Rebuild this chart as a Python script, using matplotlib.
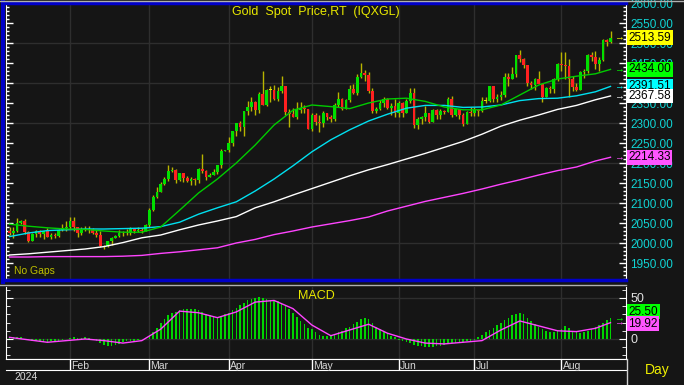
import numpy as np
import pandas as pd
import matplotlib
matplotlib.use('Agg')
import matplotlib.pyplot as plt
from matplotlib.lines import Line2D
from matplotlib.ticker import MultipleLocator

plt.rcParams['font.family'] = ['Liberation Sans', 'DejaVu Sans']

# trading days shown on the chart
dates = pd.bdate_range('2024-01-10', '2024-08-20')

opens = [2030, 2025, 2029, 2049, 2055, 2028, 2006, 2023, 2029, 2022, 2029, 2014, 2021, 2018, 2033, 2037,
         2039, 2054, 2039, 2024, 2035, 2035, 2034, 2024, 2020, 1992, 1992, 2004, 2013, 2018, 2024, 2025, 2024, 2035, 2031, 2033, 2030,
         2044, 2083, 2114, 2128, 2148, 2160, 2179, 2182, 2158, 2174, 2162, 2156, 2160, 2157, 2186, 2181, 2165, 2171, 2178, 2194, 2229,
         2233, 2251, 2280, 2300, 2290, 2329, 2339, 2352, 2333, 2372, 2344, 2383, 2383, 2361, 2379, 2392, 2327, 2322, 2316, 2332, 2337, 2335,
         2286, 2320, 2303, 2301, 2324, 2314, 2309, 2346, 2360, 2336, 2358, 2385, 2376, 2414, 2425, 2421, 2379, 2329, 2334, 2350, 2361, 2337, 2343,
         2326, 2349, 2326, 2355, 2376, 2294, 2311, 2316, 2324, 2303, 2333, 2319, 2329, 2328, 2360, 2321, 2334, 2320, 2298, 2327,
         2326, 2332, 2330, 2356, 2356, 2392, 2359, 2364, 2371, 2415, 2411, 2422, 2469, 2459, 2445, 2400, 2396, 2409, 2398, 2365, 2387, 2384, 2410,
         2448, 2446, 2442, 2410, 2390, 2383, 2427, 2431, 2471, 2465, 2447, 2457, 2507, 2503]
highs = [2040, 2040, 2062, 2058, 2059, 2031, 2024, 2033, 2033, 2031, 2037, 2024, 2026, 2036, 2048, 2055,
         2065, 2065, 2040, 2040, 2043, 2043, 2038, 2032, 2031, 1995, 2006, 2016, 2021, 2032, 2030, 2034, 2041, 2036, 2039, 2038, 2047,
         2088, 2119, 2141, 2152, 2165, 2195, 2189, 2184, 2175, 2176, 2167, 2164, 2163, 2187, 2222, 2183, 2176, 2184, 2196, 2236, 2233,
         2265, 2280, 2300, 2305, 2331, 2354, 2365, 2355, 2378, 2431, 2384, 2392, 2395, 2389, 2418, 2392, 2335, 2338, 2352, 2353, 2346, 2336,
         2326, 2326, 2319, 2331, 2326, 2319, 2351, 2378, 2362, 2359, 2395, 2397, 2422, 2450, 2432, 2427, 2387, 2340, 2357, 2364, 2362, 2351, 2360,
         2355, 2353, 2360, 2388, 2387, 2314, 2318, 2342, 2325, 2334, 2336, 2335, 2333, 2365, 2368, 2335, 2335, 2324, 2330, 2339,
         2340, 2335, 2365, 2364, 2392, 2393, 2372, 2381, 2424, 2424, 2440, 2469, 2483, 2462, 2446, 2404, 2412, 2431, 2401, 2390, 2392, 2413, 2451,
         2477, 2477, 2460, 2418, 2399, 2431, 2435, 2473, 2477, 2479, 2464, 2509, 2510, 2531]
lows = [2021, 2013, 2028, 2047, 2023, 2002, 2005, 2016, 2016, 2011, 2014, 2010, 2013, 2015, 2031, 2030,
        2035, 2031, 2014, 2020, 2030, 2024, 2022, 2015, 1990, 1984, 1990, 1996, 2012, 2015, 2018, 2019, 2020, 2025, 2028, 2024, 2030,
        2039, 2081, 2113, 2127, 2145, 2154, 2177, 2150, 2155, 2153, 2153, 2146, 2146, 2151, 2175, 2157, 2164, 2169, 2172, 2187, 2229,
        2228, 2243, 2268, 2281, 2267, 2321, 2329, 2319, 2326, 2345, 2343, 2353, 2357, 2356, 2375, 2320, 2291, 2314, 2310, 2326, 2325, 2285,
        2281, 2296, 2277, 2291, 2307, 2303, 2306, 2340, 2333, 2335, 2353, 2373, 2370, 2412, 2404, 2374, 2326, 2325, 2333, 2340, 2334, 2321, 2314,
        2314, 2315, 2325, 2351, 2287, 2286, 2297, 2305, 2300, 2302, 2310, 2310, 2323, 2327, 2316, 2317, 2309, 2293, 2298, 2318,
        2317, 2318, 2327, 2351, 2353, 2353, 2352, 2358, 2365, 2393, 2410, 2414, 2453, 2437, 2393, 2385, 2383, 2399, 2353, 2364, 2375, 2375, 2406,
        2430, 2410, 2364, 2381, 2380, 2382, 2412, 2425, 2454, 2436, 2431, 2454, 2492, 2500]
closes = [2025, 2029, 2049, 2055, 2028, 2006, 2023, 2029, 2022, 2029, 2014, 2021, 2018, 2033, 2037, 2039,
          2054, 2039, 2024, 2035, 2035, 2034, 2024, 2020, 1992, 1992, 2004, 2013, 2018, 2024, 2025, 2024, 2035, 2031, 2033, 2030, 2044,
          2083, 2114, 2128, 2148, 2160, 2179, 2182, 2158, 2174, 2162, 2156, 2160, 2157, 2186, 2181, 2165, 2171, 2178, 2194, 2229, 2233,
          2251, 2280, 2300, 2290, 2329, 2339, 2352, 2333, 2372, 2344, 2383, 2383, 2361, 2379, 2392, 2327, 2322, 2316, 2332, 2337, 2335, 2286,
          2320, 2303, 2301, 2324, 2314, 2309, 2346, 2360, 2336, 2358, 2385, 2376, 2414, 2425, 2421, 2379, 2329, 2334, 2350, 2361, 2337, 2343, 2326,
          2349, 2326, 2355, 2376, 2294, 2311, 2316, 2324, 2303, 2333, 2319, 2329, 2328, 2360, 2321, 2334, 2320, 2298, 2327, 2326,
          2332, 2330, 2356, 2356, 2392, 2359, 2364, 2371, 2415, 2411, 2422, 2469, 2459, 2445, 2400, 2396, 2409, 2398, 2365, 2387, 2384, 2410, 2448,
          2446, 2442, 2410, 2390, 2383, 2427, 2431, 2471, 2465, 2447, 2457, 2507, 2503, 2513.59]

# moving averages
ma_idx = [0, 5, 10, 15, 20, 25, 30, 35, 40, 45, 50, 55, 60, 65, 70, 75, 80,
          85, 90, 95, 100, 105, 110, 115, 120, 125, 130, 135, 140, 145, 150, 155, 159]
ma_green = [2047, 2042, 2038, 2035, 2034, 2030, 2027, 2027, 2040, 2082, 2125, 2160, 2200, 2245, 2295, 2332, 2345,
            2341, 2336, 2350, 2360, 2362, 2354, 2340, 2333, 2333, 2345, 2370, 2395, 2410, 2417, 2423, 2434.00]
ma_cyan = [2016, 2025, 2031, 2033, 2035, 2035, 2036, 2037, 2041, 2052, 2072, 2088, 2103, 2130, 2160, 2193, 2228,
           2258, 2283, 2305, 2322, 2337, 2344, 2344, 2339, 2340, 2345, 2356, 2361, 2362, 2368, 2378, 2391.51]
ma_white = [1970, 1973, 1977, 1981, 1985, 1991, 2001, 2013, 2020, 2033, 2045, 2055, 2066, 2088, 2103, 2120, 2136,
            2152, 2168, 2183, 2196, 2210, 2224, 2239, 2254, 2272, 2292, 2307, 2320, 2334, 2344, 2358, 2367.58]
ma_magenta = [1965, 1965, 1966, 1966, 1966, 1966, 1967, 1969, 1974, 1978, 1983, 1988, 2000, 2009, 2021, 2030, 2040,
              2048, 2056, 2065, 2080, 2092, 2104, 2114, 2124, 2135, 2147, 2158, 2170, 2181, 2190, 2205, 2214.33]

macd = [2, 3, 3, 2, 0, -1, -2, -3, -3, -4, -4, -3, -3, -2, -1, 0,
        1, 2, 1, 1, 2, 1, 0, -2, -5, -7, -8, -8, -7, -6, -4, -3, -2, -2, -1, 0, 1,
        4, 9, 14, 19, 24, 29, 32, 33, 35, 36, 37, 37, 36, 35, 33, 31, 29, 27, 27, 28, 30,
        32, 35, 38, 41, 44, 47, 49, 50, 51, 50, 49, 48, 48, 46, 43, 40, 36, 32, 27, 22, 18, 14,
        12, 8, 5, 4, 4, 5, 6, 8, 10, 13, 15, 18, 21, 24, 26, 24, 19, 15, 12, 9, 7, 4, 2,
        -1, -3, -4, -5, -7, -8, -9, -10, -10, -10, -9, -8, -7, -6, -5, -5, -4, -4, -3, -3,
        -1, 2, 5, 8, 11, 14, 17, 20, 23, 26, 29, 31, 32, 30, 26, 22, 18, 15, 12, 10, 9, 9, 10,
        12, 16, 13, 10, 8, 7, 8, 10, 12, 15, 17, 20, 23, 25.50]
signal = [2, -1, -4, -2, 0, -2, -5, -2, 12, 34, 32, 26, 33, 45, 47, 37, 17,
          4, 11, 18, 7, 0, -5, -6, -4, -2, 11, 22, 16, 10, 9, 13, 19.92]

BG = '#151515'
GRID = '#2e2e2e'
BLUE = '#0000c8'
W, H = 684, 385


def fx(px):
    return px / W


def fy(py):
    return 1 - py / H


fig = plt.figure(figsize=(6.84, 3.85), dpi=100, facecolor=BG)
ax = fig.add_axes([fx(6), fy(280), fx(620), 277 / H], facecolor=BG)
axm = fig.add_axes([fx(6), fy(359), fx(620), 72 / H], facecolor=BG)
axd = fig.add_axes([fx(6), fy(370), fx(620), 11 / H], facecolor=BG)

n = len(closes)
x = np.arange(n)
month_starts = [i for i in range(1, n) if dates[i].month != dates[i - 1].month]
month_names = [dates[i].strftime('%b') for i in month_starts]
xlim = (-0.93, 163.1)

# ---- price panel ----
for p in range(2000, 2501, 100):
    ax.axhline(p, color=GRID, lw=1, zorder=0)
for i in month_starts:
    ax.axvline(i, color=GRID, lw=1, zorder=0)

o = np.array(opens, float)
c = np.array(closes, float)
up = c >= o
wick_col = '#b8b400'
ax.vlines(x, lows, highs, color=wick_col, lw=1, zorder=2)
body_bot = np.minimum(o, c)
body_h = np.maximum(np.abs(c - o), 1.2)
cols = np.where(np.abs(c - o) < 0.5, '#e8e800', np.where(up, '#00e000', '#ff2020'))
ax.bar(x, body_h, bottom=body_bot, width=0.72, color=cols, linewidth=0, zorder=3)

ax.plot(ma_idx, ma_magenta, color='#ff44ff', lw=1, zorder=4)
ax.plot(ma_idx, ma_white, color='#ffffff', lw=1, zorder=4)
ax.plot(ma_idx, ma_cyan, color='#00e0f0', lw=1, zorder=4)
ax.plot(ma_idx, ma_green, color='#00cc00', lw=1, zorder=4)

ax.set_xlim(*xlim)
ax.set_ylim(1907.5, 2600)
ax.set_xticks([])
ax.yaxis.set_major_locator(MultipleLocator(50))
ax.yaxis.set_minor_locator(MultipleLocator(10))
ax.yaxis.set_major_formatter(lambda v, pos: '%.2f' % v)
ax.tick_params(axis='y', which='both', direction='in', left=True, right=True,
               labelleft=False, labelright=True, color='white', labelcolor='#10d4d4',
               labelsize=8.5, pad=3)
ax.tick_params(axis='y', which='major', length=5, width=1)
ax.tick_params(axis='y', which='minor', length=2.5, width=1)
for s in ['left', 'right']:
    ax.spines[s].set_color('white')
for s in ['top', 'bottom']:
    ax.spines[s].set_color(BLUE)
    ax.spines[s].set_linewidth(2.5)

last_vals = [closes[-1], ma_green[-1], ma_cyan[-1], ma_white[-1], ma_magenta[-1]]
last_cols = ['#ffff00', '#00ff00', '#00ffff', '#ffffff', '#ff55ff']
for v, bc in zip(last_vals, last_cols):
    ax.text(161.3, v, '\u2192', color=bc, fontsize=7, va='center', ha='center', zorder=6)
    ax.text(1.004, v, '%.2f' % v, transform=ax.get_yaxis_transform(), color='black',
            fontsize=8.5, va='center', ha='left', zorder=7, clip_on=False,
            bbox=dict(boxstyle='square,pad=0.12', fc=bc, ec='none'))

ax.text(0.5, 0.968, 'Gold  Spot  Price,RT  (IQXGL)', transform=ax.transAxes,
        color='#e8e800', fontsize=9, ha='center', va='center')
ax.text(0.013, 0.015, 'No Gaps', transform=ax.transAxes, color='#c0c000',
        fontsize=7.5, ha='left', va='bottom')

# ---- MACD panel ----
axm.axhline(50, color=GRID, lw=1, zorder=0)
axm.axhline(0, color=GRID, lw=1, zorder=0)
for i in month_starts:
    axm.axvline(i, color=GRID, lw=1, zorder=0)
axm.bar(x, macd, width=0.42, color='#00d400', linewidth=0, zorder=2, antialiased=False)
axm.plot(ma_idx, signal, color='#ff44ff', lw=1, zorder=3)
axm.set_xlim(*xlim)
axm.set_ylim(-24.4, 63.4)
axm.set_xticks([])
axm.set_yticks([0, 50])
axm.yaxis.set_minor_locator(MultipleLocator(10))
axm.tick_params(axis='y', which='both', direction='in', left=True, right=True,
                labelleft=False, labelright=True, color='white', labelcolor='#e0e0e0',
                labelsize=9, pad=3)
axm.tick_params(axis='y', which='major', length=5)
axm.tick_params(axis='y', which='minor', length=3)
for s in ['left', 'right', 'bottom']:
    axm.spines[s].set_color('white')
axm.spines['top'].set_visible(False)
# value boxes are stacked apart so they do not cover each other
box_y = [33.5, 18.5]
for v, by, bc in zip([macd[-1], signal[-1]], box_y, ['#00ff00', '#ff55ff']):
    axm.text(161.3, v, '\u2192', color=bc, fontsize=7, va='center', ha='center')
    axm.text(1.004, by, '%.2f' % v, transform=axm.get_yaxis_transform(), color='black',
             fontsize=8.5, va='center', ha='left', clip_on=False,
             bbox=dict(boxstyle='square,pad=0.12', fc=bc, ec='none'))
axm.text(0.5, 0.88, 'MACD', transform=axm.transAxes, color='#e8e800',
         fontsize=9, ha='center', va='center')

# ---- date strip ----
axd.set_xlim(*xlim)
axd.set_ylim(0, 1)
axd.set_xticks([])
axd.set_yticks([])
for s in ['left', 'right']:
    axd.spines[s].set_visible(False)
for s in ['top', 'bottom']:
    axd.spines[s].set_color('white')
for i, name in zip(month_starts, month_names):
    axd.axvline(i, color='white', lw=1)
    axd.text(i + 0.3, 0.4, name, color='#d8d8d8', fontsize=7.5, ha='left', va='center')

fig.text(fx(14), fy(377), str(dates[0].year), color='#d8d8d8', fontsize=7.5,
         ha='left', va='center')
fig.text(fx(657), fy(370), 'Day', color='#f0f000', fontsize=10, ha='center', va='center')

# window frame lines
fig.add_artist(Line2D([fx(2.5), fx(2.5)], [fy(282), fy(1)], color=BLUE, lw=3))
fig.add_artist(Line2D([0, 1], [fy(0.5), fy(0.5)], color='#b0b0b0', lw=1))
fig.add_artist(Line2D([0, fx(626)], [fy(284.5), fy(284.5)], color='#b0b0b0', lw=1))
fig.add_artist(Line2D([fx(626.5), fx(626.5)], [fy(359), fy(385)], color='#d0d0d0', lw=1))

fig.savefig('out.png', dpi=100, facecolor=BG)
